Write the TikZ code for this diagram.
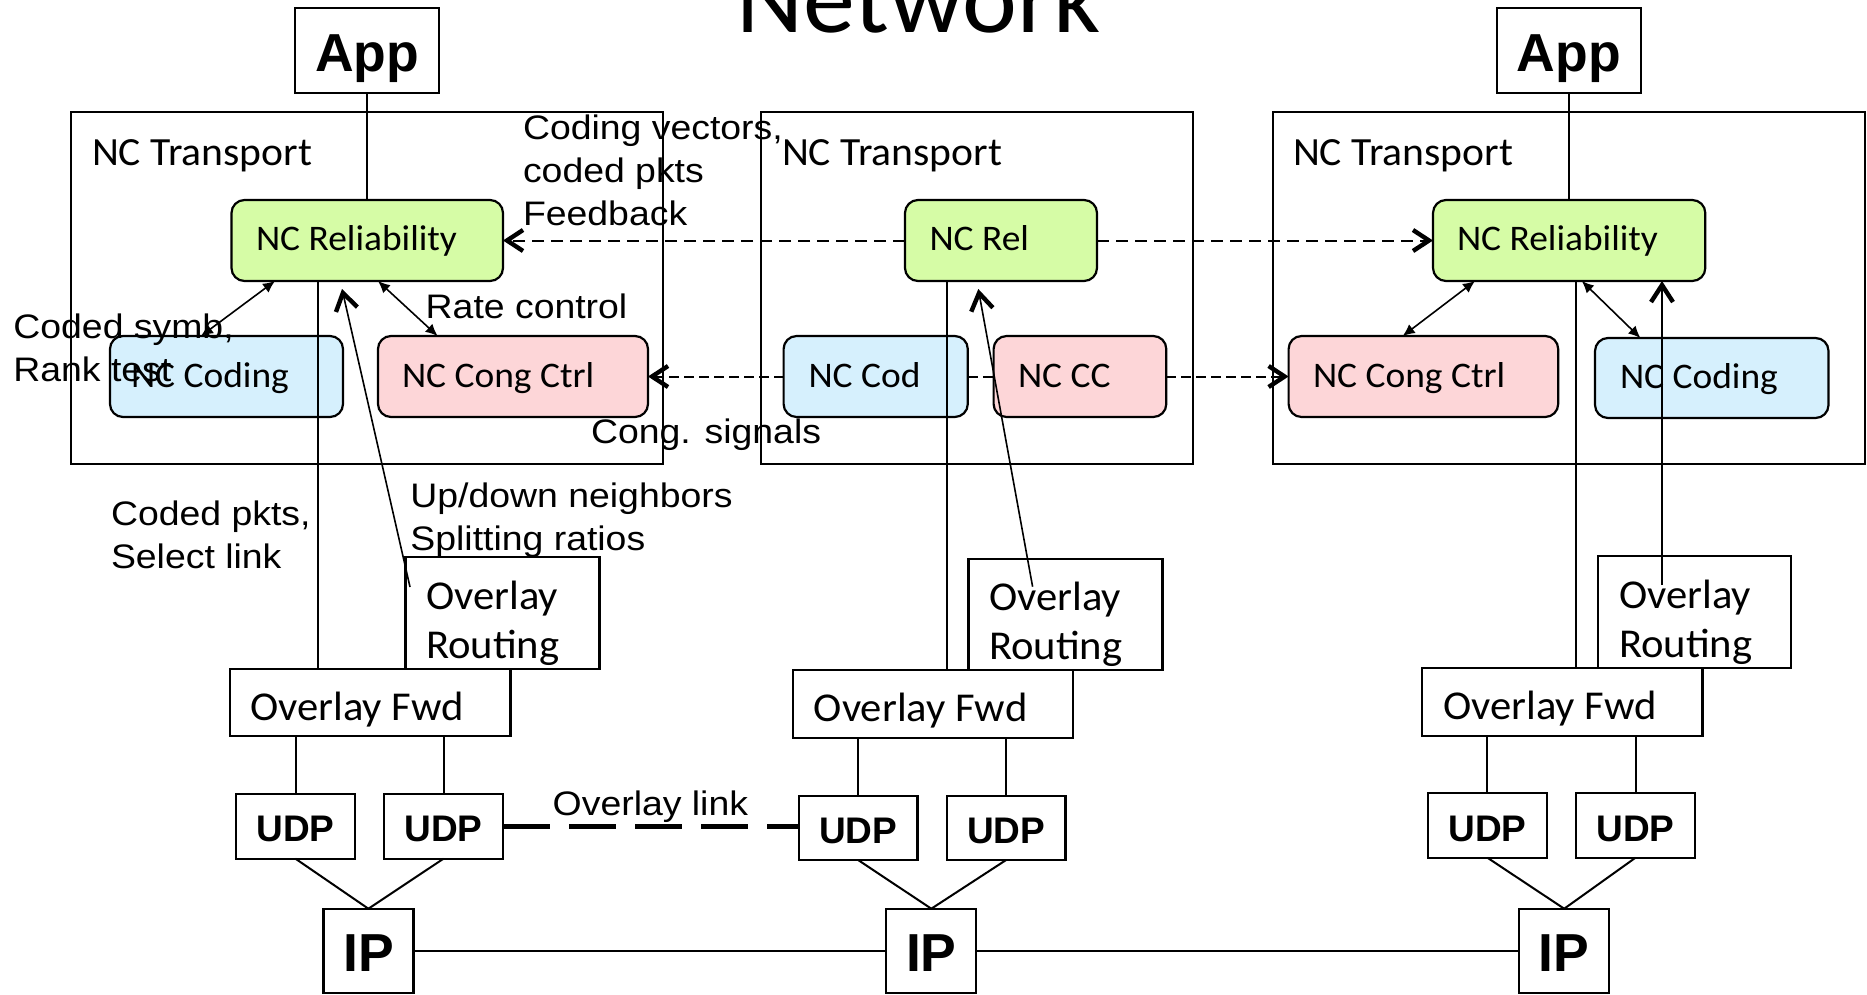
\documentclass[tikz,border=0pt]{standalone}
\usepackage{fontspec}
\setmainfont{Liberation Sans}
\newfontfamily\calfont[FakeStretch=1.04]{Carlito}
\newfontfamily\arfont[FakeStretch=1.1]{Liberation Sans}
\usetikzlibrary{arrows.meta}
\definecolor{grn}{RGB}{214,252,166}
\definecolor{blu}{RGB}{214,240,253}
\definecolor{pnk}{RGB}{253,214,216}
\begin{document}
\begin{tikzpicture}[x=0.5pt,y=-0.5pt,
  bx/.style n args={4}{draw=black, line width=1.1pt, anchor=north west, at={(#1,#2)},
     minimum width={(#3-#1)*0.5pt}, minimum height={(#4-#2)*0.5pt}, inner sep=0pt, outer sep=0pt},
  rbx/.style n args={4}{bx={#1}{#2}{#3}{#4}, rounded corners=6.5pt},
  ln/.style={line width=1pt},
  dbl/.style={line width=0.8pt, {Latex[length=6pt,width=5.5pt]}-{Latex[length=6pt,width=5.5pt]}},
  rt/.style={line width=0.8pt, -{Straight Barb[length=8.5pt,width=11pt,line width=2.2pt 0]}},
  dsh/.style={line width=1pt, dash pattern=on 6pt off 3.5pt},
  csh/.style={line width=1pt, dash pattern=on 5pt off 2.5pt},
  chev/.style={-{Straight Barb[length=8pt,width=10.5pt,line width=2.2pt 0]}},
  arl/.style={inner sep=0pt, outer sep=0pt, anchor=base west, font=\arfont\fontsize{17}{21.5}\selectfont},
  cl/.style={inner sep=0pt, outer sep=0pt, anchor=base west, font=\calfont\fontsize{18}{22}\selectfont},
  tl/.style={cl, font=\calfont\fontsize{20}{24}\selectfont},
  ol/.style={cl, font=\calfont\fontsize{20.5}{24.5}\selectfont},
  bl/.style={inner sep=0pt, outer sep=0pt, anchor=base, font=\bfseries\fontsize{26.75}{30}\selectfont},
  ul/.style={inner sep=0pt, outer sep=0pt, anchor=base, font=\bfseries\fontsize{18.5}{22}\selectfont}]
\useasboundingbox (0,0) rectangle (1867,995);

% title
\node[inner sep=0pt, outer sep=0pt, anchor=base west, font=\calfont\fontsize{50}{60}\selectfont] (title) at (736,33) {Network};

% ---------- boxes, column 1
\node[bx={295}{8}{439}{93}] (App1) {};
\node[bx={71}{112}{663}{464}] (T1) {};
\node[rbx={231.5}{200}{503}{281}, fill=grn] (Rel1) {};
\node[rbx={110}{336}{343}{417}, fill=blu] (Cod1) {};
\node[rbx={378}{336}{648}{417}, fill=pnk] (CC1) {};
\node[bx={405.5}{557.3}{599.5}{669}] (OR1) {};
\node[bx={230}{668.7}{510.4}{736.3}] (OF1) {};
\node[bx={236}{793.7}{355}{858.7}] (U1a) {};
\node[bx={384}{793.7}{503}{858.7}] (U1b) {};
\node[bx={323.4}{908.7}{413.4}{993}] (IP1) {};

% ---------- boxes, column 2
\node[bx={760.7}{112}{1192.6}{464}] (T2) {};
\node[rbx={905}{200}{1097}{281}, fill=grn] (Rel2) {};
\node[rbx={783.6}{336}{967.8}{417}, fill=blu] (Cod2) {};
\node[rbx={993.6}{336}{1166.3}{417}, fill=pnk] (CC2) {};
\node[bx={968.4}{558.7}{1162.4}{670}] (OR2) {};
\node[bx={793}{670}{1073.3}{737.7}] (OF2) {};
\node[bx={798.8}{795.7}{917.4}{860}] (U2a) {};
\node[bx={946.8}{795.7}{1065.4}{860}] (U2b) {};
\node[bx={886.3}{908.7}{976.3}{993}] (IP2) {};

% ---------- boxes, column 3
\node[bx={1496.7}{8}{1640.8}{93}] (App3) {};
\node[bx={1272.8}{112}{1864.7}{464}] (T3) {};
\node[rbx={1433}{200}{1705.3}{281}, fill=grn] (Rel3) {};
\node[rbx={1288.6}{336}{1558.2}{417}, fill=pnk] (CC3) {};
\node[rbx={1595}{338}{1828.5}{418}, fill=blu] (Cod3) {};
\node[bx={1598}{556.3}{1791}{667.7}] (OR3) {};
\node[bx={1422.2}{667.7}{1702.5}{735.7}] (OF3) {};
\node[bx={1427.7}{793}{1547}{857.7}] (U3a) {};
\node[bx={1576}{793}{1695}{857.7}] (U3b) {};
\node[bx={1519.2}{908.7}{1609.2}{993}] (IP3) {};

% ---------- helper coordinates
\coordinate (v1) at (318,0);
\coordinate (v2) at (946.8,0);
\coordinate (v3) at (1576,0);
\coordinate (d1a) at (201,0);
\coordinate (d1b) at (275,0);
\coordinate (d1c) at (378,0);
\coordinate (d1d) at (437.6,0);
\coordinate (d3a) at (1475,0);
\coordinate (d3b) at (1402.7,0);
\coordinate (d3c) at (1581.8,0);
\coordinate (d3d) at (1640.4,0);
\coordinate (r1s) at (410,587);
\coordinate (r1t) at (342,289);
\coordinate (r2s) at (1032.6,586.7);
\coordinate (r2t) at (978.3,289);
\coordinate (r3s) at (1662,585);

% ---------- connectors column 1
\draw[ln] (App1.south) -- (App1.south |- Rel1.north);
\draw[ln] (Rel1.south -| v1) -- (OF1.north -| v1);
\draw[dbl] (Cod1.north -| d1a) -- (Rel1.south -| d1b);
\draw[dbl] (Rel1.south -| d1c) -- (CC1.north -| d1d);
\draw[rt] (r1s) -- (r1t);
\draw[ln] (U1a.north) -- (U1a.north |- OF1.south);
\draw[ln] (U1b.north) -- (U1b.north |- OF1.south);
\draw[ln] (U1a.south) -- (IP1.north);
\draw[ln] (U1b.south) -- (IP1.north);

% ---------- connectors column 2
\draw[ln] (Rel2.south -| v2) -- (OF2.north -| v2);
\draw[rt] (r2s) -- (r2t);
\draw[ln] (U2a.north) -- (U2a.north |- OF2.south);
\draw[ln] (U2b.north) -- (U2b.north |- OF2.south);
\draw[ln] (U2a.south) -- (IP2.north);
\draw[ln] (U2b.south) -- (IP2.north);

% ---------- connectors column 3
\draw[ln] (App3.south) -- (App3.south |- Rel3.north);
\draw[ln] (Rel3.south -| v3) -- (OF3.north -| v3);
\draw[dbl] (Rel3.south -| d3a) -- (CC3.north -| d3b);
\draw[dbl] (Rel3.south -| d3c) -- (Cod3.north -| d3d);
\draw[rt] (r3s) -- (r3s |- Rel3.south);
\draw[ln] (U3a.north) -- (U3a.north |- OF3.south);
\draw[ln] (U3b.north) -- (U3b.north |- OF3.south);
\draw[ln] (U3a.south) -- (IP3.north);
\draw[ln] (U3b.south) -- (IP3.north);

% ---------- between nodes
\draw[dsh, chev] (Rel2.west) -- (Rel1.east);
\draw[dsh, chev] (Rel2.east) -- (Rel3.west);
\draw[csh, chev] (Cod2.west) -- (CC1.east);
\draw[csh] (Cod2.east) -- (CC2.west);
\draw[csh, chev] (CC2.east) -- (CC3.west);
\draw[line width=2.5pt, dash pattern=on 23.5pt off 9.5pt] (U1b.east) -- (U1b.east -| U2a.west);
\draw[ln] (IP1.east) -- (IP2.west);
\draw[ln] (IP2.east) -- (IP3.west);

% ---------- texts in boxes
\node[bl] (App1t) at (367,71.7) {App};
\node[bl] (App3t) at (1568.8,71.7) {App};
\node[tl] (T1t) at (92,165) {NC Transport};
\node[tl] (T2t) at (782,165) {NC Transport};
\node[tl] (T3t) at (1293,165) {NC Transport};
\node[cl] (Rel1t) at (256,250) {NC Reliability};
\node[cl] (Rel2t) at (929.5,250) {NC Rel};
\node[cl] (Rel3t) at (1457,250) {NC Reliability};
\node[cl] (Cod1t) at (131,387) {NC Coding};
\node[cl] (CC1t) at (402,387) {NC Cong Ctrl};
\node[cl] (Cod2t) at (808.5,387) {NC Cod};
\node[cl] (CC2t) at (1018,387) {NC CC};
\node[cl] (CC3t) at (1313,387) {NC Cong Ctrl};
\node[cl] (Cod3t) at (1620,388) {NC Coding};
\node[ol] (OR1t) at (426,609.3) {\vtop{\hbox{Overlay}\hbox{Routing}}};
\node[ol] (OR2t) at (989,610) {\vtop{\hbox{Overlay}\hbox{Routing}}};
\node[ol] (OR3t) at (1619,608.3) {\vtop{\hbox{Overlay}\hbox{Routing}}};
\node[ol] (OF1t) at (250,720.7) {Overlay Fwd};
\node[ol] (OF2t) at (813.8,721.7) {Overlay Fwd};
\node[ol] (OF3t) at (1443,719.3) {Overlay Fwd};
\node[ul] (U1at) at (295.5,841.7) {UDP};
\node[ul] (U1bt) at (443.5,841.7) {UDP};
\node[ul] (U2at) at (858.1,843.7) {UDP};
\node[ul] (U2bt) at (1006.1,843.7) {UDP};
\node[ul] (U3at) at (1487.4,841) {UDP};
\node[ul] (U3bt) at (1635.5,841) {UDP};
\node[bl] (IP1t) at (368.4,971.7) {IP};
\node[bl] (IP2t) at (931.3,971.7) {IP};
\node[bl] (IP3t) at (1564.2,971.7) {IP};

% ---------- free labels
\node[arl] (lab1) at (13.4,338.3) {\vtop{\hbox{Coded symb,}\hbox{Rank test}}};
\node[arl] (lab2) at (425.7,318.3) {Rate control};
\node[arl] (lab3) at (523,139.3) {\vtop{\hbox{Coding vectors,}\hbox{coded pkts}\hbox{Feedback}}};
\node[arl] (lab4) at (591,443.3) {Cong. signals};
\node[arl] (lab5) at (111,525) {\vtop{\hbox{Coded pkts,}\hbox{Select link}}};
\node[arl] (lab6) at (410.4,507.3) {\vtop{\hbox{Up/down neighbors}\hbox{Splitting ratios}}};
\node[arl] (lab7) at (552.7,815) {Overlay link};
\end{tikzpicture}
\end{document}
